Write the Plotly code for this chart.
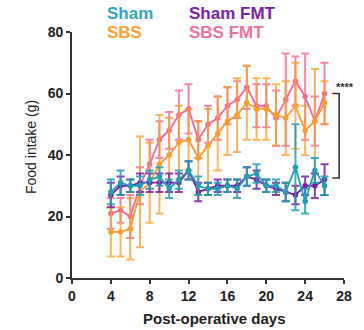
import plotly.graph_objects as go

days = list(range(4, 27))

sham = [28, 31, 30, 30, 32, 33, 29, 32, 35, 30, 29, 29, 30, 29, 33, 34, 30, 30, 28, 36, 25, 35, 30]
sham_err = [4, 4, 2, 3, 3, 3, 3, 3, 3, 3, 2, 2, 2, 3, 3, 3, 2, 2, 3, 14, 4, 4, 3]

sham_fmt = [27, 30, 30, 31, 31, 31, 31, 31, 35, 28, 29, 30, 30, 30, 33, 32, 30, 29, 28, 27, 30, 30, 32]
sham_fmt_err = [4, 3, 2, 3, 3, 3, 3, 3, 3, 3, 2, 2, 2, 2, 3, 3, 2, 2, 3, 3, 3, 4, 5]

sbs = [15, 15, 16, 28, 31, 37, 40, 44, 45, 39, 43, 47, 51, 53, 57, 55, 55, 53, 52, 56, 48, 51, 57]
sbs_err = [8, 8, 10, 18, 13, 16, 12, 12, 10, 12, 12, 12, 11, 12, 12, 10, 10, 10, 12, 14, 8, 17, 7]

sbs_fmt = [21, 22, 20, 30, 37, 45, 48, 53, 55, 45, 50, 52, 56, 58, 62, 56, 56, 52, 58, 64, 59, 51, 60]
sbs_fmt_err = [5, 4, 7, 6, 8, 6, 6, 8, 8, 6, 6, 7, 6, 6, 7, 7, 7, 9, 15, 8, 14, 8, 10]

series = [
    ("SBS FMT", sbs_fmt, sbs_fmt_err, "#f7669a", "rgba(247,102,154,0.8)"),
    ("SBS", sbs, sbs_err, "#ff9c2a", "rgba(255,156,42,0.75)"),
    ("Sham FMT", sham_fmt, sham_fmt_err, "#7a1ea6", "rgba(122,30,166,0.85)"),
    ("Sham", sham, sham_err, "#1f9fb6", "rgba(31,159,182,0.85)"),
]

fig = go.Figure()
for name, vals, errs, col, ecol in series:
    fig.add_trace(go.Scatter(
        x=days, y=vals, name=name, mode="lines+markers",
        line=dict(color=col, width=1.8),
        marker=dict(color=col, size=5.5),
        error_y=dict(type="data", array=errs, visible=True, color=ecol,
                     thickness=2, width=4),
        showlegend=False,
    ))

font_family = "Liberation Sans, Arial, sans-serif"

fig.update_layout(
    width=364, height=330,
    margin=dict(l=72, r=20, t=32, b=52),
    paper_bgcolor="white", plot_bgcolor="white",
    font=dict(family=font_family, color="#222"),
    xaxis=dict(range=[0, 28], tickvals=[0, 4, 8, 12, 16, 20, 24, 28],
               showgrid=False, zeroline=False, showline=True,
               linecolor="#333", linewidth=1.6, ticks="outside",
               ticklen=4, tickwidth=1.5, tickcolor="#333",
               tickfont=dict(size=14, family=font_family, weight="bold", color="#222")),
    yaxis=dict(range=[0, 80], tickvals=[0, 20, 40, 60, 80],
               showgrid=False, zeroline=False, showline=True,
               linecolor="#333", linewidth=1.6, ticks="outside",
               ticklen=4, tickwidth=1.5, tickcolor="#333",
               tickfont=dict(size=14, family=font_family, weight="bold", color="#222")),
)

annotations = [
    dict(text="<b>Sham</b>", x=105, y=13, color="#35a8c0", size=17),
    dict(text="<b>Sham FMT</b>", x=187, y=13, color="#7b22a6", size=17),
    dict(text="<b>SBS</b>", x=105, y=32, color="#ffa030", size=17),
    dict(text="<b>SBS FMT</b>", x=187, y=32, color="#f4729e", size=17),
]
for a in annotations:
    fig.add_annotation(text=a["text"], xref="paper", yref="paper",
                       x=(a["x"] - 72) / (364 - 72 - 20),
                       y=1 - (a["y"] - 32) / (330 - 32 - 52),
                       xanchor="left", yanchor="middle", showarrow=False,
                       font=dict(size=a["size"], color=a["color"], family=font_family))

# axis titles
fig.add_annotation(text="Food intake (g)", xref="paper", yref="paper",
                   x=(31 - 72) / 272, y=1 - (147 - 32) / 246, textangle=-90,
                   xanchor="center", yanchor="middle", showarrow=False,
                   font=dict(size=14, color="#222", family=font_family))
fig.add_annotation(text="<b>Post-operative days</b>", xref="paper", yref="paper",
                   x=(214 - 72) / 272, y=1 - (318 - 32) / 246,
                   xanchor="center", yanchor="middle", showarrow=False,
                   font=dict(size=15, color="#222", family=font_family))

# significance bracket
fig.add_shape(type="path", xref="x", yref="y",
              path="M 26.8,60 L 27.5,60 L 27.5,32.5 L 26.8,32.5",
              line=dict(color="#333", width=1.6))
fig.add_annotation(text="<b>****</b>", xref="paper", yref="paper",
                   x=(345 - 72) / 272, y=1 - (87 - 32) / 246,
                   xanchor="center", yanchor="middle", showarrow=False,
                   font=dict(size=11, color="#333", family=font_family))

fig.write_html("out.html")
